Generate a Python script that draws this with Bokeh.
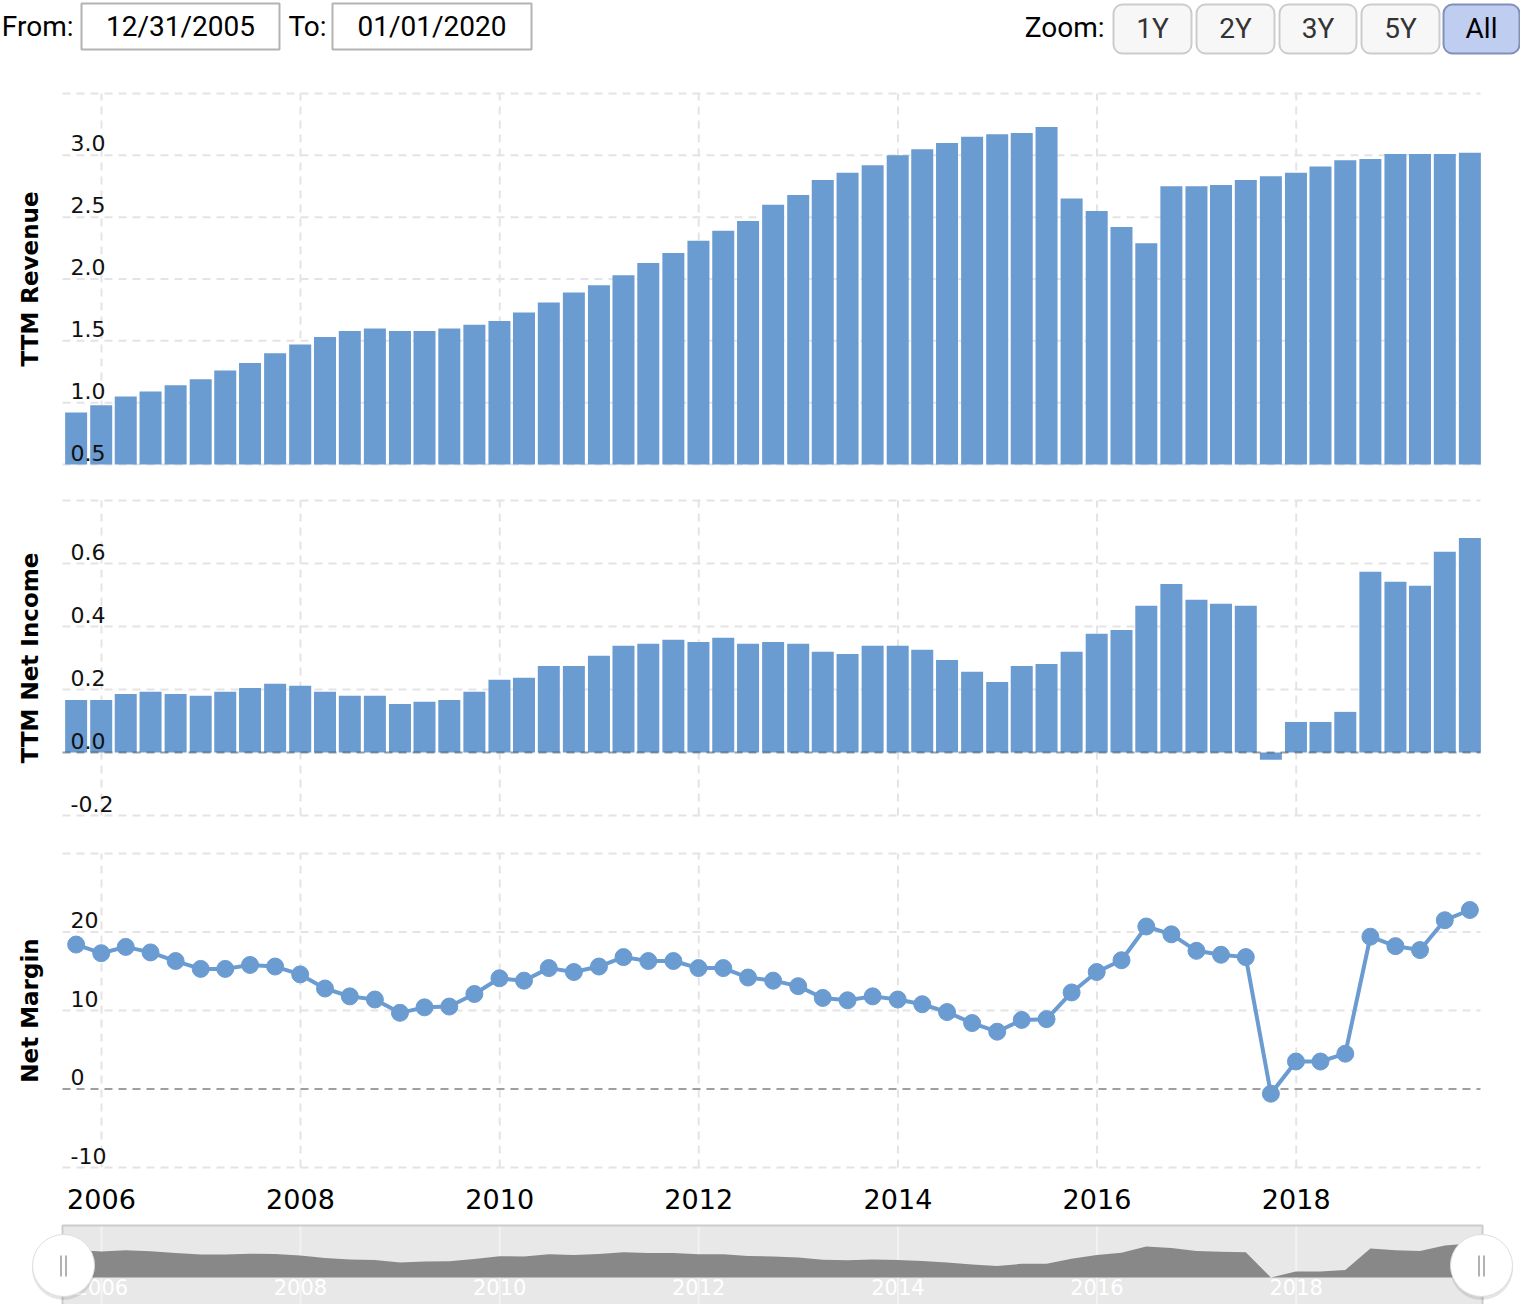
import numpy as np
import pandas as pd
from bokeh.plotting import figure
from bokeh.models import Range1d
from bokeh.core.properties import value
from bokeh.embed import file_html
from bokeh.resources import INLINE

# ---------------- data ----------------
quarters = pd.date_range("2005-09-30", "2019-09-30", freq="QE")

ttm_revenue = [0.92, 0.98, 1.05, 1.09, 1.14, 1.19, 1.26, 1.32, 1.40, 1.47,
               1.53, 1.58, 1.60, 1.58, 1.58, 1.60, 1.63, 1.66, 1.73, 1.81,
               1.89, 1.95, 2.03, 2.13, 2.21, 2.31, 2.39, 2.47, 2.60, 2.68,
               2.80, 2.86, 2.92, 3.00, 3.05, 3.10, 3.15, 3.17, 3.18, 3.23,
               2.65, 2.55, 2.42, 2.29, 2.75, 2.75, 2.76, 2.80, 2.83, 2.86,
               2.91, 2.96, 2.97, 3.01, 3.01, 3.01, 3.02]

ttm_net_income = [0.167, 0.167, 0.186, 0.193, 0.186, 0.180, 0.193, 0.205, 0.218, 0.212,
                  0.193, 0.180, 0.180, 0.154, 0.161, 0.167, 0.193, 0.231, 0.237, 0.275,
                  0.275, 0.307, 0.339, 0.345, 0.358, 0.351, 0.364, 0.345, 0.351, 0.345,
                  0.320, 0.313, 0.339, 0.339, 0.326, 0.294, 0.256, 0.224, 0.275, 0.281,
                  0.320, 0.377, 0.389, 0.466, 0.535, 0.485, 0.472, 0.466, -0.023, 0.097,
                  0.097, 0.129, 0.574, 0.542, 0.529, 0.637, 0.681]

net_margin = [18.4, 17.3, 18.1, 17.4, 16.3, 15.3, 15.3, 15.8, 15.6, 14.6,
              12.8, 11.8, 11.4, 9.7, 10.4, 10.5, 12.1, 14.1, 13.8, 15.4,
              14.9, 15.6, 16.8, 16.3, 16.3, 15.4, 15.4, 14.2, 13.8, 13.1,
              11.6, 11.3, 11.8, 11.4, 10.8, 9.8, 8.4, 7.3, 8.8, 8.9,
              12.3, 14.9, 16.4, 20.7, 19.7, 17.6, 17.1, 16.8, -0.6, 3.5,
              3.5, 4.5, 19.4, 18.2, 17.7, 21.5, 22.8]

rev_grid = [0.5, 1.0, 1.5, 2.0, 2.5, 3.0, 3.5]
rev_tick_vals = [0.5, 1.0, 1.5, 2.0, 2.5, 3.0]
rev_tick_labels = ["0.5", "1.0", "1.5", "2.0", "2.5", "3.0"]

ni_grid = [-0.2, 0.0, 0.2, 0.4, 0.6, 0.8]
ni_tick_vals = [-0.2, 0.0, 0.2, 0.4, 0.6]
ni_tick_labels = ["-0.2", "0.0", "0.2", "0.4", "0.6"]

nm_grid = [-10, 0, 10, 20, 30]
nm_tick_vals = [-10, 0, 10, 20]
nm_tick_labels = ["-10", "0", "10", "20"]

year_labels = ["2006", "2008", "2010", "2012", "2014", "2016", "2018"]

panel_titles = ["TTM Revenue", "TTM Net Income", "Net Margin"]

from_label, from_date = "From:", "12/31/2005"
to_label, to_date = "To:", "01/01/2020"
zoom_label = "Zoom:"
zoom_buttons = ["1Y", "2Y", "3Y", "5Y", "All"]

# ---------------- geometry / style ----------------
WC, HC = 1520, 1304          # canvas size (pixels)
PX_L, PX_R = 62, 1480        # plot area left / right (pixels)
BLUE = "#6a9bd1"
GRID = "#e4e4e4"
DAY = 86400000.0
DEJAVU = value("DejaVu Sans")

q_ms = quarters.values.astype("datetime64[ms]").astype("int64").astype(float)
year_ms = [float(pd.Timestamp(y + "-01-01").value // 10**6) for y in year_labels]
x_start = q_ms[0] - 50 * DAY
x_end = q_ms[-1] + 39 * DAY
mpp = (x_end - x_start) / (PX_R - PX_L)
bar_w = 22 * mpp


def yrange(v_top, py_top, v_bot, py_bot):
    ppu = (py_bot - py_top) / (v_top - v_bot)
    return Range1d(v_bot - (HC - py_bot) / ppu, v_top + py_top / ppu)


p = figure(width=WC, height=HC, output_backend="svg", toolbar_location=None,
           x_range=Range1d(x_start - PX_L * mpp, x_start + (WC - PX_L) * mpp),
           y_range=Range1d(HC, 0),
           min_border_left=0, min_border_right=0, min_border_top=0, min_border_bottom=0)
p.axis.visible = False
p.grid.visible = False
p.outline_line_color = None
p.background_fill_color = "white"
p.border_fill_color = "white"
p.extra_x_ranges = {"px": Range1d(0, WC)}
nav_base = min(net_margin)
p.extra_y_ranges = {
    "px": Range1d(HC, 0),
    "rev": yrange(rev_grid[-1], 93, rev_grid[0], 464),
    "ni": yrange(ni_grid[-1], 500, ni_grid[0], 815),
    "nm": yrange(nm_grid[-1], 853, nm_grid[0], 1167),
    "nav": yrange(max(net_margin), 1243, nav_base, 1277),
}


def grids(rname, gticks):
    n = len(gticks)
    p.segment(x0=[x_start] * n, x1=[x_end] * n, y0=gticks, y1=gticks, y_range_name=rname,
              line_color=GRID, line_width=2, line_dash="8 6")
    m = len(year_ms)
    p.segment(x0=year_ms, x1=year_ms, y0=[gticks[0]] * m, y1=[gticks[-1]] * m,
              y_range_name=rname, line_color=GRID, line_width=2, line_dash="8 6")


def ticks_and_title(rname, gticks, tvals, tlabels, title):
    p.text(x=[x_start] * len(tvals), y=tvals, text=tlabels, x_offset=8, y_offset=-12,
           y_range_name=rname, text_align="left", text_baseline="alphabetic",
           text_font=DEJAVU, text_font_size="22px", text_color="#111111")
    p.text(x=[29], y=[(gticks[0] + gticks[-1]) / 2], text=[title], angle=np.pi / 2,
           x_range_name="px", y_range_name=rname, text_align="center",
           text_baseline="middle", text_font=DEJAVU, text_font_style="bold",
           text_font_size="23px", text_color="#000000")


def zero_line(rname):
    p.segment(x0=[x_start], x1=[x_end], y0=[0], y1=[0], y_range_name=rname,
              line_color="black", line_alpha=0.3, line_width=2, line_dash="8 6")


# ---------------- top controls ----------------
RB = value("Roboto")
p.text(x=[73], y=[26], text=[from_label], x_range_name="px", text_align="right",
       text_baseline="middle", text_font=RB, text_font_size="28px", text_color="#000")
p.quad(left=[81, 332], right=[279, 531], top=[3, 3], bottom=[49, 49], x_range_name="px",
       fill_color="white", line_color="#b3b3b3", line_width=2)
p.text(x=[180, 431.5], y=[26, 26], text=[from_date, to_date], x_range_name="px",
       text_align="center", text_baseline="middle", text_font=RB, text_font_size="28px",
       text_color="#000")
p.text(x=[288], y=[26], text=[to_label], x_range_name="px", text_align="left",
       text_baseline="middle", text_font=RB, text_font_size="28px", text_color="#000")
p.text(x=[1104], y=[27], text=[zoom_label], x_range_name="px", text_align="right",
       text_baseline="middle", text_font=RB, text_font_size="28px", text_color="#000")
b_left = [1113, 1196, 1279, 1361, 1443]
b_right = [1191, 1274, 1356, 1439, 1519]
p.quad(left=b_left[:4], right=b_right[:4], top=[4] * 4, bottom=[53] * 4, x_range_name="px",
       fill_color="#f7f7f7", line_color="#cccccc", line_width=2, border_radius=9)
p.quad(left=b_left[4:], right=b_right[4:], top=[4], bottom=[53], x_range_name="px",
       fill_color="#bfcdf0", line_color="#8190b8", line_width=2, border_radius=9)
p.text(x=[(l + r) / 2 for l, r in zip(b_left, b_right)], y=[28] * 5, text=zoom_buttons,
       x_range_name="px", text_align="center", text_baseline="middle", text_font=RB,
       text_font_size="28px", text_color=["#333333"] * 4 + ["#000000"])

# ---------------- revenue ----------------
grids("rev", rev_grid)
p.vbar(x=q_ms, top=ttm_revenue, bottom=rev_grid[0], width=bar_w, y_range_name="rev",
       fill_color=BLUE, line_color=None)
ticks_and_title("rev", rev_grid, rev_tick_vals, rev_tick_labels, panel_titles[0])

# ---------------- net income ----------------
grids("ni", ni_grid)
p.vbar(x=q_ms, top=ttm_net_income, bottom=0, width=bar_w, y_range_name="ni",
       fill_color=BLUE, line_color=None)
zero_line("ni")
ticks_and_title("ni", ni_grid, ni_tick_vals, ni_tick_labels, panel_titles[1])

# ---------------- net margin ----------------
grids("nm", nm_grid)
zero_line("nm")
p.line(x=q_ms, y=net_margin, y_range_name="nm", line_color=BLUE, line_width=4)
p.scatter(x=q_ms, y=net_margin, y_range_name="nm", size=17, fill_color=BLUE, line_color=BLUE)
ticks_and_title("nm", nm_grid, nm_tick_vals, nm_tick_labels, panel_titles[2])
p.text(x=year_ms, y=[1198] * len(year_ms), y_range_name="px", text=year_labels,
       text_align="center", text_baseline="middle", text_font=DEJAVU,
       text_font_size="27px", text_color="#000000")

# ---------------- navigator ----------------
p.quad(left=[PX_L], right=[PX_R + 2], top=[1225], bottom=[HC + 4], x_range_name="px",
       y_range_name="px", fill_color="#e8e8e8", line_color="#cccccc", line_width=2)
p.segment(x0=year_ms, x1=year_ms, y0=[1226] * len(year_ms), y1=[HC] * len(year_ms),
          y_range_name="px", line_color="white", line_alpha=0.45, line_width=2)
p.varea(x=q_ms, y1=[nav_base] * len(q_ms), y2=net_margin, y_range_name="nav",
        fill_color="#888888")
p.text(x=year_ms, y=[1286] * len(year_ms), y_range_name="px", text=year_labels,
       text_align="center", text_baseline="middle", text_font=DEJAVU,
       text_font_size="21px", text_color="white")
hx = [PX_L + 1, PX_R + 1]
p.scatter(x=hx, y=[1268, 1268], x_range_name="px", y_range_name="px", size=63,
          fill_color="black", fill_alpha=0.10, line_color=None)
p.scatter(x=hx, y=[1265, 1265], x_range_name="px", y_range_name="px", size=62,
          fill_color="white", line_color="#dddddd", line_width=1)
for dx in (-2.5, 2.5):
    p.segment(x0=[h + dx for h in hx], x1=[h + dx for h in hx], y0=[1255, 1255],
              y1=[1276, 1276], x_range_name="px", y_range_name="px",
              line_color="#999999", line_width=1.5)

open("out.html", "w").write(file_html(p, INLINE))
